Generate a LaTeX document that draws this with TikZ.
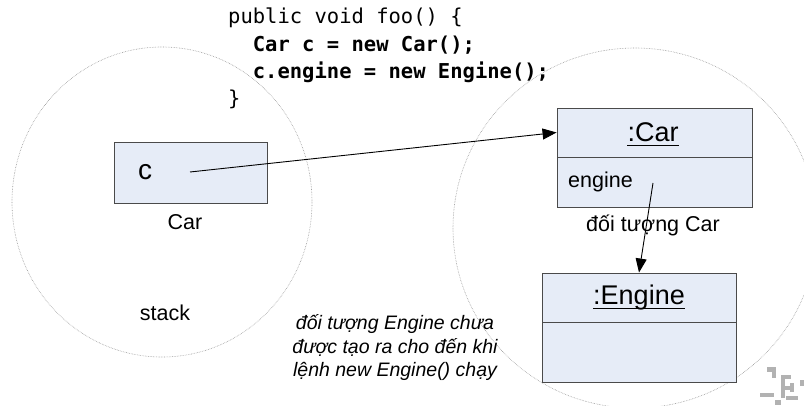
\documentclass[tikz,border=0pt]{standalone}
\usepackage{fontspec}
\setmainfont{Liberation Sans}
\newfontfamily\codefont{DejaVu Sans Mono}
\usetikzlibrary{arrows.meta}
\definecolor{boxfill}{HTML}{E6ECF7}
\definecolor{boxline}{HTML}{4A4A4A}
\tikzset{
  region/.style={draw=gray!80, densely dotted, line width=0.6pt},
  varbox/.style={draw=boxline, fill=boxfill, line width=0.9pt, rectangle, inner sep=0pt},
  lbl/.style={inner sep=0pt, font=\fontsize{21.5}{25}\selectfont},
  title/.style={inner sep=0pt, anchor=base, font=\fontsize{27}{30}\selectfont},
  uline/.style={line width=1pt},
  codeline/.style={inner sep=0pt, anchor=base west, font=\codefont\fontsize{20.5}{24}\selectfont},
  ptr/.style={line width=0.9pt, -{Triangle[length=14pt,width=11pt]}},
  note/.style={inner sep=0pt, align=center, font=\itshape\fontsize{19.5}{23.5}\selectfont},
  grip/.style={fill=gray!60, draw=none},
}
\begin{document}
\begin{tikzpicture}[x=1pt,y=-1pt]
\useasboundingbox (0,0) rectangle (804,406);
\fill[white] (0,0) rectangle (804,406);
\clip (0,0) rectangle (804,406);
% regions
\draw[region] (162,202) ellipse [x radius=150, y radius=155];
\draw[region] (635,228) ellipse [x radius=182, y radius=180];
% code
\node[codeline] (l1) at (228,24) {public void foo() \{};
\node[codeline] (l2) at (228,52) {\bfseries\ \ Car c = new Car();};
\node[codeline] (l3) at (228,79) {\bfseries\ \ c.engine = new Engine();};
\node[codeline] (l4) at (228,106) {\}};
% stack variable
\node[varbox, minimum width=153pt, minimum height=61pt] (cbox) at (190.5,172.5) {};
\node[inner sep=0pt, font=\fontsize{28}{30}\selectfont] (cname) at (145,172) {c};
\coordinate (cref) at (190,172);
\node[lbl] (ctype) at (185,222) {Car};
\node[lbl] (stack) at (165,313) {stack};
% Car object
\node[varbox, minimum width=195pt, minimum height=49pt] (carhead) at (654.5,132.5) {};
\node[varbox, minimum width=195pt, minimum height=50pt] (carbody) at (654.5,182) {};
\node[title] (cartitle) at (653,142) {:Car};
\draw[uline] ([yshift=-3.5pt]cartitle.base west) -- ([yshift=-3.5pt]cartitle.base east);
\node[lbl, anchor=west] (engfield) at (568,182) {engine};
\coordinate (engref) at (653,183);
\node[lbl] (carcap) at (653,225) {đối tượng Car};
% Engine object
\node[varbox, minimum width=194pt, minimum height=49pt] (enghead) at (639,297.5) {};
\node[varbox, minimum width=194pt, minimum height=60pt] (engbody) at (639,352) {};
\node[title] (engtitle) at (639,305) {:Engine};
\draw[uline] ([yshift=-3.5pt]engtitle.base west) -- ([yshift=-3.5pt]engtitle.base east);
% note
\node[note] (nt) at (395,348) {đối tượng Engine chưa\\được tạo ra cho đến khi\\lệnh new Engine() chạy};
% pointers
\draw[ptr] (cref) -- (carhead.west);
\draw[ptr] (engref) -- (enghead.north);
% corner grip
\fill[grip] (767,367) rectangle (776,372);
\fill[grip] (772,370) rectangle (776,378);
\fill[grip] (781,375) rectangle (791,379);
\fill[grip] (781,375) rectangle (785,398);
\fill[grip] (785,386) rectangle (794,390);
\fill[grip] (790,383) rectangle (794,392);
\fill[grip] (760,393) rectangle (774,397);
\fill[grip] (786,396) rectangle (798,400);
\fill[grip] (775,400) rectangle (781,405);
\fill[grip] (800,380) rectangle (804,386);
\end{tikzpicture}
\end{document}
